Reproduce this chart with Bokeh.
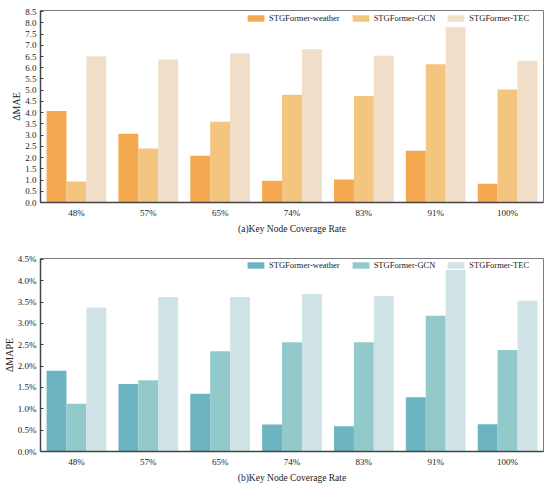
from bokeh.plotting import figure
from bokeh.models import ColumnDataSource, FactorRange, FixedTicker, PrintfTickFormatter, Range1d
from bokeh.transform import dodge
from bokeh.layouts import column
from bokeh.embed import file_html
from bokeh.resources import INLINE

categories = ["48%", "57%", "65%", "74%", "83%", "91%", "100%"]
series_names = ["STGFormer-weather", "STGFormer-GCN", "STGFormer-TEC"]

mae_weather = [4.08, 3.06, 2.08, 0.97, 1.02, 2.30, 0.84]
mae_gcn = [0.93, 2.40, 3.60, 4.80, 4.74, 6.16, 5.03]
mae_tec = [6.50, 6.37, 6.65, 6.82, 6.53, 7.80, 6.31]

mape_weather = [1.89, 1.58, 1.35, 0.63, 0.59, 1.27, 0.64]
mape_gcn = [1.12, 1.67, 2.35, 2.56, 2.56, 3.18, 2.38]
mape_tec = [3.37, 3.62, 3.62, 3.69, 3.64, 4.25, 3.53]

mae_ticks = [i * 0.5 for i in range(18)]
mape_ticks = [i * 0.5 for i in range(10)]

orange_colors = ["#F4A84F", "#F4C57E", "#F0DEC8"]
teal_colors = ["#6DB4C3", "#92CACC", "#D0E3E7"]

FONT = "Liberation Serif"


def make_plot(vals, colors, ticks, ymax, ylabel, xlabel, height, top, bottom, fmt, leg_y):
    src = ColumnDataSource(dict(cat=categories, a=vals[0], b=vals[1], c=vals[2]))
    p = figure(x_range=FactorRange(*categories, range_padding=0),
               y_range=Range1d(0, ymax),
               width=550, height=height, output_backend="svg",
               toolbar_location=None, tools="",
               min_border_left=39, min_border_right=7,
               min_border_top=top, min_border_bottom=bottom)
    offs = [-0.277, 0.0, 0.277]
    for key, off, col, name in zip(["a", "b", "c"], offs, colors, series_names):
        p.vbar(x=dodge("cat", off, range=p.x_range), top=key, width=0.277,
               source=src, fill_color=col, line_color=None, legend_label=name)
    p.xgrid.visible = False
    p.ygrid.visible = False
    p.outline_line_color = "#7a7a7a"
    p.outline_line_width = 1

    ya = p.yaxis[0]
    ya.ticker = FixedTicker(ticks=ticks)
    ya.formatter = PrintfTickFormatter(format=fmt)
    ya.minor_tick_line_color = None
    ya.major_tick_in = 3
    ya.major_tick_out = 0
    ya.major_tick_line_color = "#444444"
    ya.axis_line_color = "#444444"
    ya.axis_line_width = 1.5
    ya.major_label_text_font = FONT
    ya.major_label_text_font_size = "9px"
    ya.major_label_text_color = "#222222"
    ya.major_label_standoff = 4
    ya.axis_label = ylabel
    ya.axis_label_text_font = FONT
    ya.axis_label_text_font_style = "normal"
    ya.axis_label_text_font_size = "10px"
    ya.axis_label_text_color = "#222222"
    ya.axis_label_standoff = 0

    xa = p.xaxis[0]
    xa.major_tick_in = 0
    xa.major_tick_out = 0
    xa.minor_tick_line_color = None
    xa.axis_line_color = "#444444"
    xa.axis_line_width = 1.5
    xa.major_label_text_font = FONT
    xa.major_label_text_font_size = "9px"
    xa.major_label_text_color = "#222222"
    xa.major_label_standoff = 5
    xa.axis_label = xlabel
    xa.axis_label_text_font = FONT
    xa.axis_label_text_font_style = "normal"
    xa.axis_label_text_font_size = "9.5px"
    xa.axis_label_text_color = "#222222"
    xa.axis_label_standoff = 3

    lg = p.legend[0]
    lg.orientation = "horizontal"
    lg.location = (205, leg_y)
    lg.border_line_color = None
    lg.background_fill_alpha = 0
    lg.padding = 0
    lg.margin = 0
    lg.spacing = 10
    lg.glyph_width = 21
    lg.glyph_height = 8
    lg.label_height = 10
    lg.label_standoff = 3
    lg.label_text_font = FONT
    lg.label_text_font_size = "8.5px"
    lg.label_text_color = "#222222"
    return p


p1 = make_plot([mae_weather, mae_gcn, mae_tec], orange_colors, mae_ticks, 8.55,
               "\u0394MAE", "(a)Key Node Coverage Rate", 240, 10, 38, "%.1f", 179)
p2 = make_plot([mape_weather, mape_gcn, mape_tec], teal_colors, mape_ticks, 4.52,
               "\u0394MAPE", "(b)Key Node Coverage Rate", 248, 18, 37, "%.1f%%", 181)

layout = column(p1, p2)
open("out.html", "w").write(file_html(layout, INLINE))
